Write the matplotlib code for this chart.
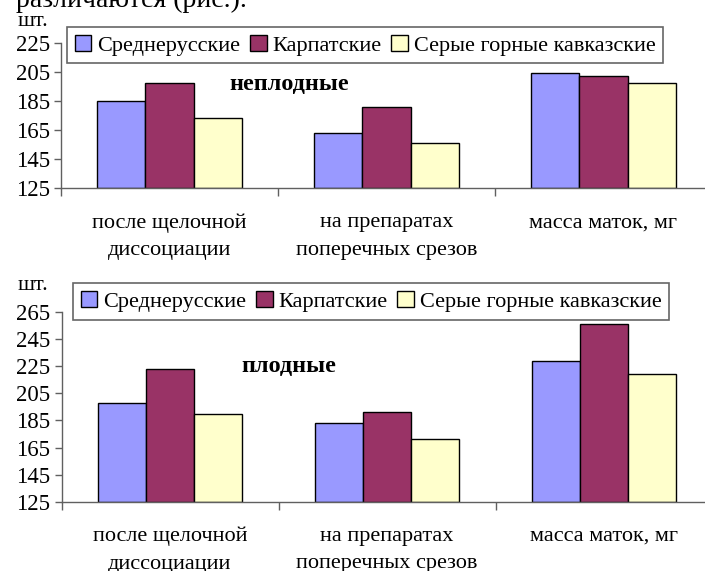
import matplotlib
matplotlib.use('Agg')
import matplotlib.pyplot as plt
import numpy as np

plt.rcParams['font.family'] = ['Liberation Serif', 'DejaVu Serif']

categories = ['после щелочной\nдиссоциации', 'на препаратах\nпоперечных срезов', 'масса маток, мг']
series = ['Среднерусские', 'Карпатские', 'Серые горные кавказские']
colors = ['#9999FF', '#993366', '#FFFFCC']

# неплодные
barren = [[185, 163, 204],
          [197, 181, 202],
          [173, 156, 197]]
# плодные
fertile = [[198, 183, 229],
           [223, 191, 256],
           [190, 171, 219]]

W, H = 705, 571
fig = plt.figure(figsize=(W / 100, H / 100), dpi=100)


def px(x0, y_top, w, h):
    # pixel box -> figure fraction
    return [x0 / W, 1 - (y_top + h) / H, w / W, h / H]


def draw(ax, data, ylim, yticks, title, title_xy, leg_xy):
    x = np.arange(len(categories))
    bw = 0.222
    for i, (name, vals) in enumerate(zip(series, data)):
        ax.bar(x + (i - 1) * bw, np.array(vals) - ylim[0], bw, bottom=ylim[0],
               color=colors[i], edgecolor='black', linewidth=1, label=name)
    ax.set_xlim(-0.5, 2.5)
    ax.set_ylim(*ylim)
    ax.set_yticks(yticks)
    ax.tick_params(axis='y', labelsize=16.5, length=5, width=1, color='#606060', pad=3)
    ax.set_xticks(x)
    ax.set_xticklabels(categories, fontsize=16, linespacing=1.6)
    ax.tick_params(axis='x', which='major', length=0, pad=18)
    ax.set_xticks([-0.5, 0.5, 1.5, 2.5], minor=True)
    ax.tick_params(axis='x', which='minor', length=6, width=1, color='#606060', direction='out')
    for s in ['top', 'right']:
        ax.spines[s].set_visible(False)
    for s in ['left', 'bottom']:
        ax.spines[s].set_color('#606060')
        ax.spines[s].set_linewidth(1)
    fig.text(title_xy[0] / W, 1 - title_xy[1] / H, title, fontsize=17.5, fontweight='bold',
             ha='center', va='center')
    leg = ax.legend(loc='upper left', bbox_to_anchor=(leg_xy[0] / W, 1 - leg_xy[1] / H),
                    bbox_transform=fig.transFigure,
                    ncol=3, fontsize=16, frameon=True, fancybox=False,
                    handlelength=0.75, handleheight=0.75, handletextpad=0.25,
                    columnspacing=0.45, borderpad=0.35, borderaxespad=0)
    leg.get_frame().set_edgecolor('#404040')
    leg.get_frame().set_linewidth(1.2)


ax1 = fig.add_axes(px(61, 42.7, 651, 145.6))
draw(ax1, barren, (125, 225), [125, 145, 165, 185, 205, 225], 'неплодные', (289, 85), (67, 27))
fig.text(33 / W, 1 - 21 / H, 'шт.', fontsize=16, ha='center', va='center')

ax2 = fig.add_axes(px(61.5, 311.7, 651, 190.3))
draw(ax2, fertile, (125, 265), [125, 145, 165, 185, 205, 225, 245, 265], 'плодные', (288.5, 366.7), (73, 283.3))
fig.text(33 / W, 1 - 285 / H, 'шт.', fontsize=16, ha='center', va='center')

# cut-off line of document text above the chart
fig.text(247 / W, 1 - 7 / H, 'различаются (рис.).', fontsize=20, ha='right', va='baseline')

fig.savefig('out.png', dpi=100)
